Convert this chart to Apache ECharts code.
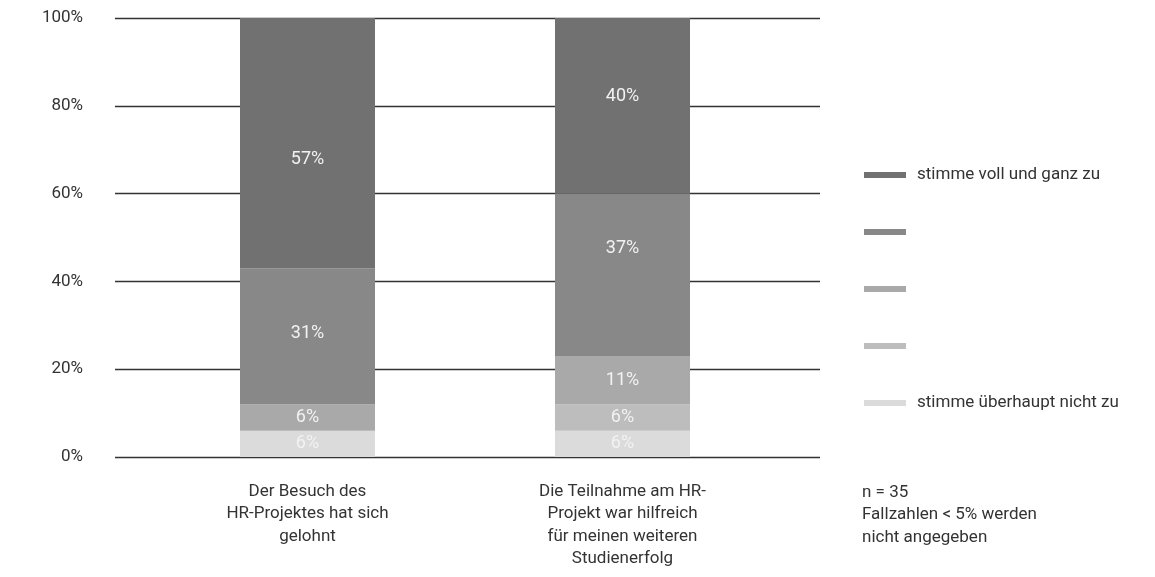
<!DOCTYPE html>
<html>
<head>
<meta charset="utf-8">
<script src="https://cdn.jsdelivr.net/npm/echarts@6/dist/echarts.min.js"></script>
<style>
  html, body { margin: 0; padding: 0; background: #fff; }
  #chart { width: 1155px; height: 577px; }
</style>
</head>
<body>
<div id="chart"></div>
<script>
// Survey statements (x categories)
const categories = [
  'Der Besuch des\nHR-Projektes hat sich\ngelohnt',
  'Die Teilnahme am HR-\nProjekt war hilfreich\nfür meinen weiteren\nStudienerfolg'
];

// Answer scale, from "agree fully" (5) down to "disagree completely" (1)
const levels = ['5', '4', '3', '2', '1'];
const levelLabels = { '5': 'stimme voll und ganz zu', '1': 'stimme überhaupt nicht zu' };
const levelColors = ['#717171', '#888888', '#a9a9a9', '#bdbdbd', '#dbdbdb'];

// Shares in percent per statement
const share5 = [57, 40];
const share4 = [31, 37];
const share3 = [6, 11];
const share2 = [0, 6];
const share1 = [6, 6];

const yTicks = [0, 20, 40, 60, 80, 100];

const shares = { '5': share5, '4': share4, '3': share3, '2': share2, '1': share1 };

// vertical nudges of the value labels inside the segments
const labelNudge = { '5': [16, -9], '4': [-3, -26], '3': [0, 0], '2': [0, 0], '1': [0, 0] };

const FONT = "'Roboto', sans-serif";

// stacking order: bottom first
const stackOrder = ['1', '2', '3', '4', '5'];
const series = stackOrder.map(lv => ({
  name: lv,
  type: 'bar',
  stack: 'total',
  xAxisIndex: 1,
  yAxisIndex: 1,
  barWidth: 135,
  data: shares[lv].map((v, i) => ({
    value: v,
    label: { offset: [0, labelNudge[lv][i]] }
  })),
  itemStyle: { color: levelColors[levels.indexOf(lv)] },
  label: {
    show: true,
    position: 'inside',
    color: '#f2f2f2',
    fontFamily: FONT,
    fontSize: 18,
    formatter: p => (p.value > 0 ? p.value + '%' : '')
  }
}));

const chart = echarts.init(document.getElementById('chart'), null, { renderer: 'canvas' });
chart.setOption({
  animation: false,
  backgroundColor: '#ffffff',
  grid: [
    // frame for the percentage grid lines
    { left: 115, right: 335, top: 18, bottom: 120 },
    // frame for the bars
    { left: 150, right: 375, top: 18, bottom: 120 }
  ],
  xAxis: [
    { gridIndex: 0, type: 'category', data: categories, show: false },
    {
      gridIndex: 1,
      type: 'category',
      data: categories,
      axisLine: { show: false },
      axisTick: { show: false },
      axisLabel: {
        margin: 23,
        color: '#333',
        fontFamily: FONT,
        fontSize: 17,
        lineHeight: 22.5,
        interval: 0
      }
    }
  ],
  yAxis: [
    {
      gridIndex: 0,
      type: 'value',
      min: yTicks[0],
      max: yTicks[yTicks.length - 1],
      interval: 20,
      axisLine: { show: false },
      axisTick: { show: false },
      splitLine: { show: true, lineStyle: { color: '#333', width: 1.3 } },
      axisLabel: {
        margin: 32,
        color: '#333',
        fontFamily: FONT,
        fontSize: 17,
        formatter: v => v + '%'
      }
    },
    {
      gridIndex: 1,
      type: 'value',
      min: 0,
      max: 100,
      interval: 20,
      show: false
    }
  ],
  legend: {
    orient: 'vertical',
    left: 859,
    top: 158,
    icon: 'rect',
    itemWidth: 42,
    itemHeight: 6,
    itemGap: 33,
    selectedMode: false,
    data: levels,
    formatter: name => levelLabels[name] || ' ',
    textStyle: {
      color: '#333',
      fontFamily: FONT,
      fontSize: 17,
      lineHeight: 24,
      padding: [0, 0, 0, 6]
    }
  },
  graphic: [
    {
      type: 'text',
      left: 862,
      top: 481,
      style: {
        text: 'n = 35\nFallzahlen < 5% werden\nnicht angegeben',
        fill: '#333',
        font: "17px " + FONT,
        lineHeight: 22.5
      }
    }
  ],
  series: series
});
</script>
</body>
</html>
